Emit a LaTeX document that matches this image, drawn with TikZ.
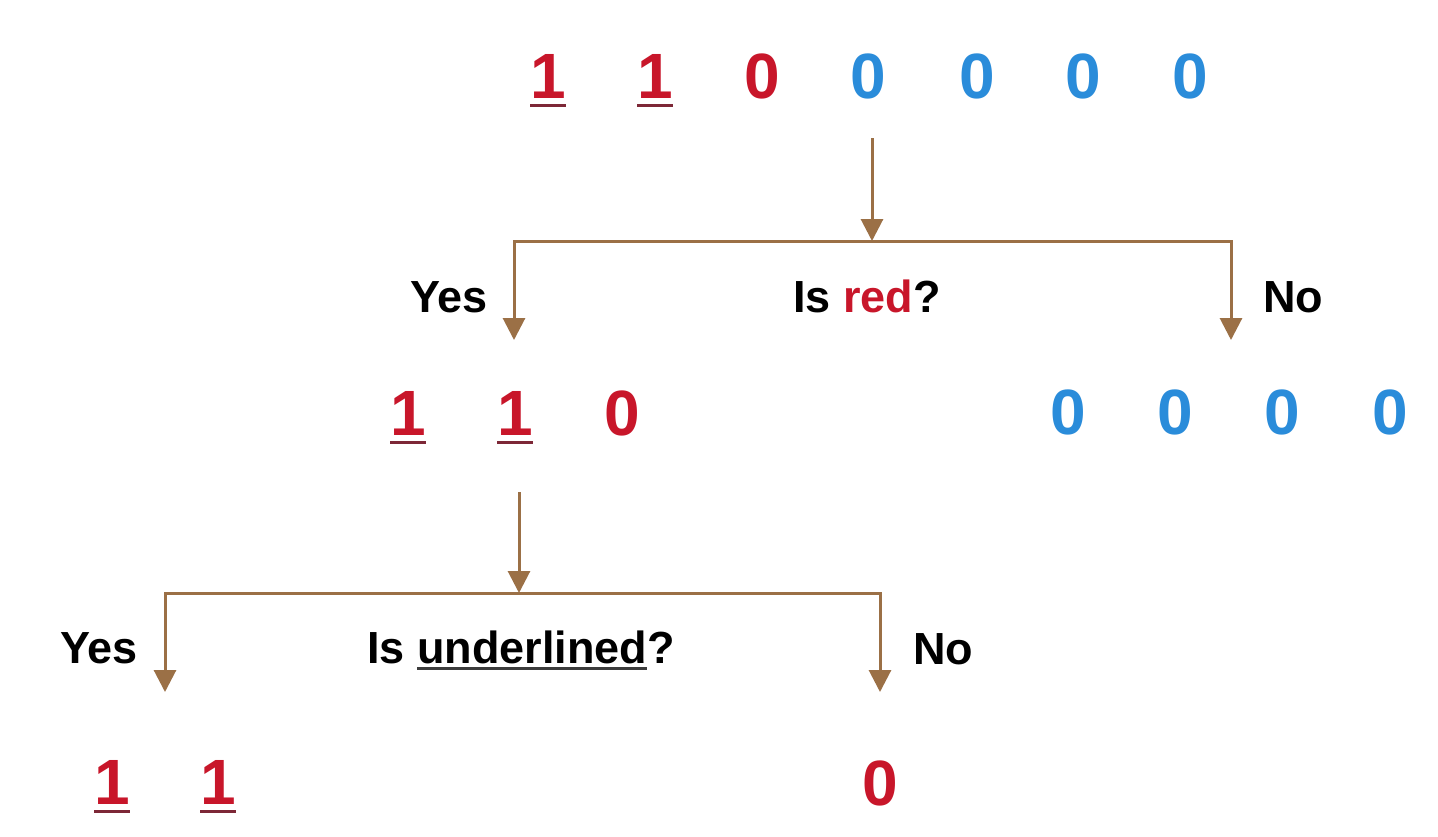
\documentclass[tikz,border=0pt]{standalone}
\usepackage{fontspec}
\setmainfont{Liberation Sans}
\usetikzlibrary{arrows.meta}
\definecolor{dred}{RGB}{200,22,42}
\definecolor{dblue}{RGB}{42,140,218}
\definecolor{brn}{RGB}{155,112,70}
\definecolor{ulred}{RGB}{125,40,55}
\definecolor{ulgray}{RGB}{60,60,60}
\newcommand\myul[3]{\leavevmode\setbox0\hbox{#3}\rlap{\color{#1}\rule[#2]{\wd0}{3pt}}\box0}
\tikzset{
  dig/.style={inner sep=0pt, anchor=base, font=\fontsize{64}{70}\selectfont\bfseries},
  rdig/.style={dig, text=dred},
  bdig/.style={dig, text=dblue},
  lbl/.style={inner sep=0pt, font=\fontsize{45}{50}\selectfont\bfseries, text=black},
  conn/.style={draw=brn, line width=3pt, line join=miter},
  arr/.style={conn, -{Triangle[width=22pt,length=22pt]}},
  barr/.style={conn, {Triangle[width=22pt,length=22pt]}-{Triangle[width=22pt,length=22pt]}}
}
\newcommand\uone{\myul{ulred}{-9pt}{1}}
\begin{document}
\begin{tikzpicture}[x=1pt,y=-1pt]
\path[use as bounding box, fill=white] (0,0) rectangle (1438,836);
% top row
\node[rdig] (t1) at (548,98) {\uone};
\node[rdig] (t2) at (655,98) {\uone};
\node[rdig] (t3) at (762,98) {0};
\node[bdig] (t4) at (868,98) {0};
\node[bdig] (t5) at (977,98) {0};
\node[bdig] (t6) at (1083,98) {0};
\node[bdig] (t7) at (1190,98) {0};
% first split
\coordinate (s1) at (872,138);
\coordinate (j1) at (872,241);
\coordinate (c1l) at (514,241);
\coordinate (c1r) at (1231,241);
\coordinate (e1l) at (514,340);
\coordinate (e1r) at (1231,340);
\draw[arr] (s1) -- (j1);
\draw[barr] (e1l) -- (c1l) -- (c1r) -- (e1r);
\node[lbl, anchor=base west] (yes1) at (410,312) {Yes};
\node[lbl, anchor=base] (q1) at (867,312) {Is \textcolor{dred}{red}?};
\node[lbl, anchor=base west] (no1) at (1263,312) {No};
% second row
\node[rdig] (m1) at (408,435) {\uone};
\node[rdig] (m2) at (515,435) {\uone};
\node[rdig] (m3) at (622,435) {0};
\node[bdig] (m4) at (1068,434) {0};
\node[bdig] (m5) at (1175,434) {0};
\node[bdig] (m6) at (1282,434) {0};
\node[bdig] (m7) at (1390,434) {0};
% second split
\coordinate (s2) at (519,492);
\coordinate (j2) at (519,593);
\coordinate (c2l) at (165,593);
\coordinate (c2r) at (880,593);
\coordinate (e2l) at (165,692);
\coordinate (e2r) at (880,692);
\draw[arr] (s2) -- (j2);
\draw[barr] (e2l) -- (c2l) -- (c2r) -- (e2r);
\node[lbl, anchor=base west] (yes2) at (60,663) {Yes};
\node[lbl, anchor=base west] (q2) at (367,663) {Is \myul{ulgray}{-7pt}{underlined}?};
\node[lbl, anchor=base west] (no2) at (913,664) {No};
% bottom row
\node[rdig] (b1) at (112,804) {\uone};
\node[rdig] (b2) at (218,804) {\uone};
\node[rdig] (b3) at (880,805) {0};
\end{tikzpicture}
\end{document}
